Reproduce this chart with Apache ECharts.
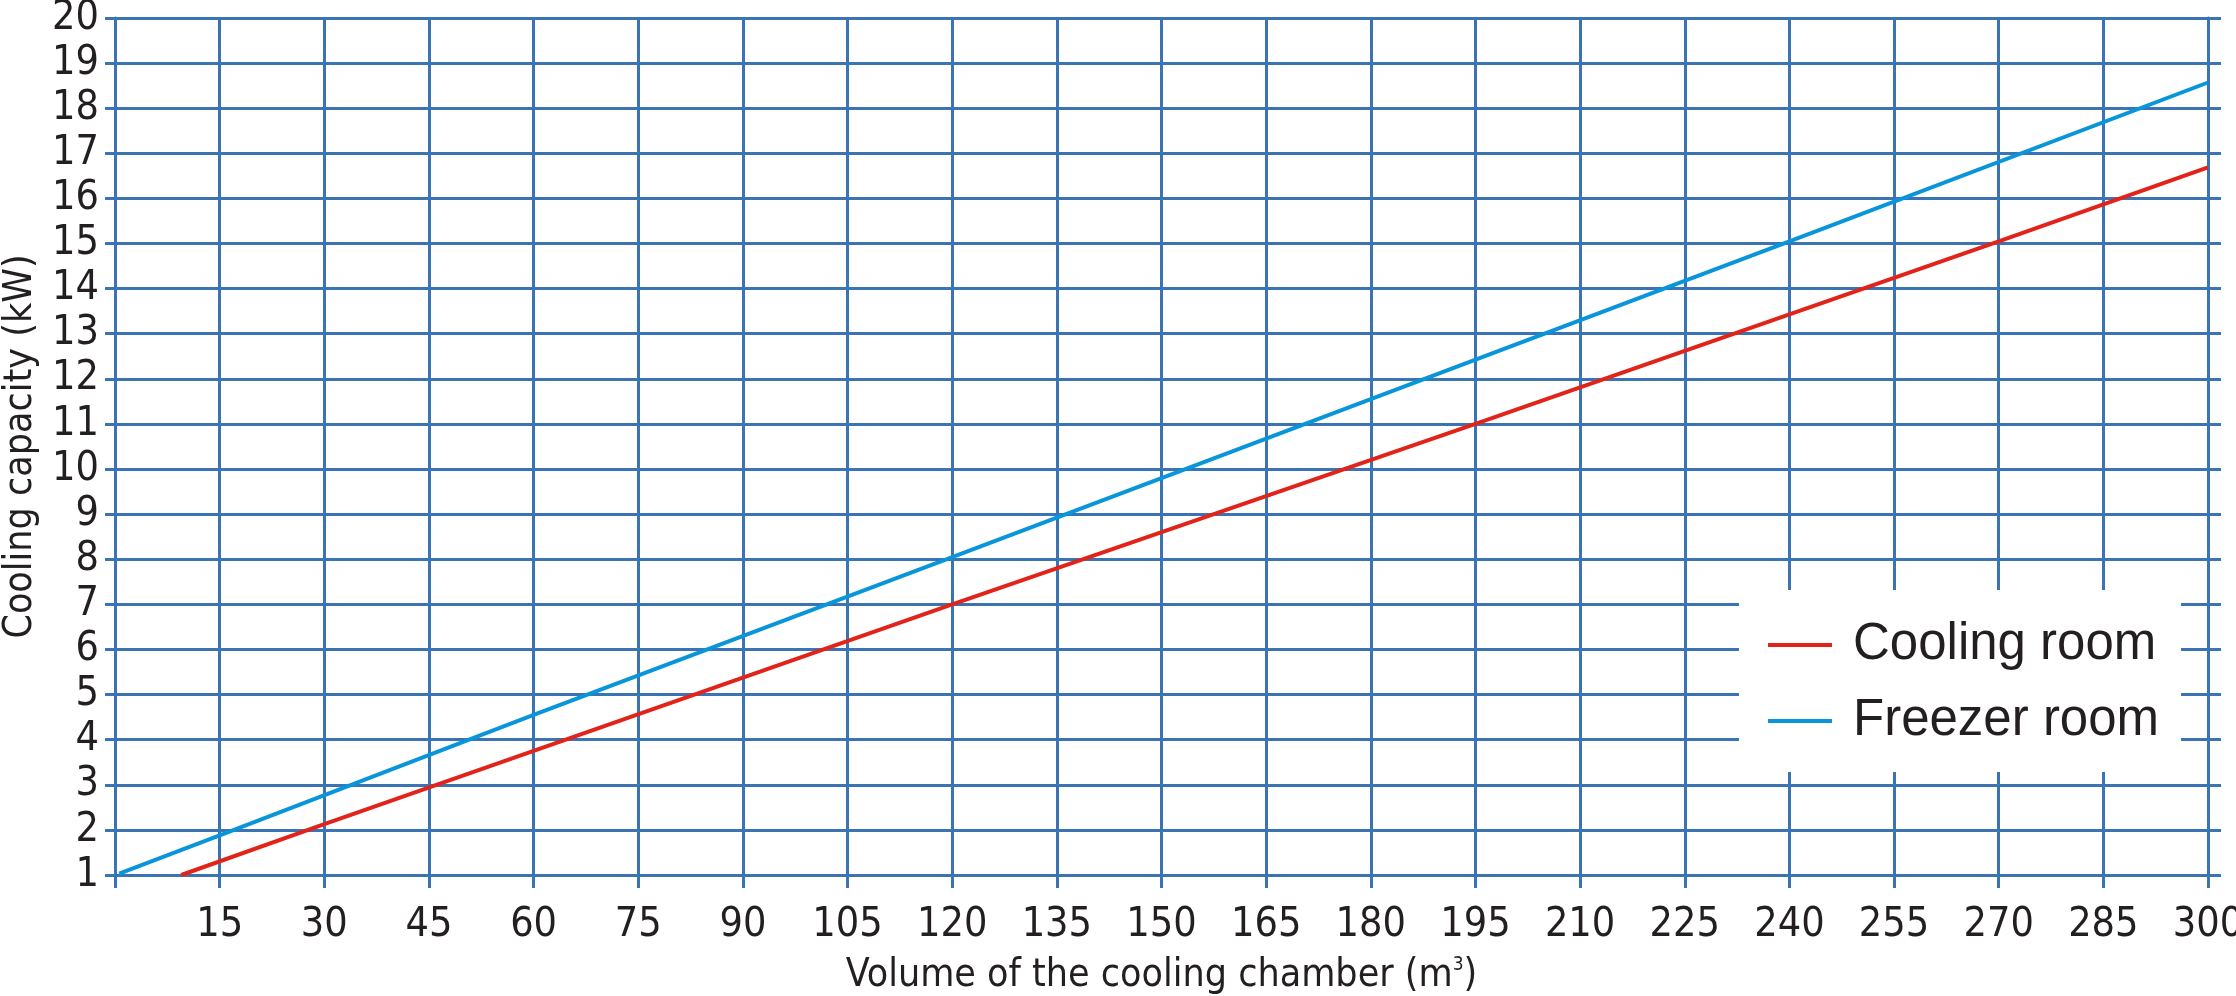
<!DOCTYPE html>
<html>
<head>
<meta charset="utf-8">
<script src="https://cdn.jsdelivr.net/npm/echarts@6/dist/echarts.min.js"></script>
<style>
  html, body { margin: 0; padding: 0; background: #fff; }
  #chart { width: 2236px; height: 996px; }
</style>
</head>
<body>
<div id="chart"></div>
<script>
// values
var coolingVolume = [9.5, 30, 60, 120, 195, 270, 300];
var coolingCapacity = [1.0, 2.13, 3.75, 7.0, 11.0, 15.05, 16.69];
var freezerVolume = [0.6, 15, 60, 120, 180, 240, 300];
var freezerCapacity = [1.03, 1.88, 4.55, 8.05, 11.55, 15.05, 18.57];

var gridBlue = "#3b74b4";
var textColor = "#231f20";
var narrow = "'Liberation Sans Narrow', 'Arial Narrow', 'DejaVu Sans Condensed', sans-serif";

function pairs(xs, ys) {
  return xs.map(function (x, i) { return [x, ys[i]]; });
}

var chart = echarts.init(document.getElementById("chart"));
chart.setOption({
  animation: false,
  backgroundColor: "#fff",
  grid: { left: 115, right: 28, top: 18, bottom: 121, containLabel: false, outerBoundsMode: "none" },
  xAxis: {
    type: "value",
    min: 0,
    max: 300,
    interval: 15,
    name: "Volume of the cooling chamber (m{sup|3})",
    nameLocation: "middle",
    nameGap: 81,
    nameTextStyle: {
      fontFamily: narrow, fontSize: 39, color: textColor,
      rich: { sup: { fontFamily: narrow, fontSize: 19, color: textColor, verticalAlign: "top", padding: [0, 0, 20, 0] } }
    },
    axisLine: { show: true, lineStyle: { color: gridBlue, width: 3 } },
    axisTick: { show: true, inside: false, length: 13, lineStyle: { color: gridBlue, width: 3 } },
    axisLabel: {
      margin: 30,
      fontFamily: narrow, fontSize: 41, color: textColor,
      formatter: function (v) { return v === 0 ? "" : v; }
    },
    splitLine: { show: true, lineStyle: { color: gridBlue, width: 3 } }
  },
  yAxis: [
    {
      type: "value",
      min: 1,
      max: 20,
      interval: 1,
      name: "Cooling capacity (kW)",
      nameLocation: "middle",
      nameRotate: 90,
      nameGap: 75,
      nameTextStyle: { fontFamily: narrow, fontSize: 39, color: textColor },
      axisLine: { show: true, lineStyle: { color: gridBlue, width: 3 } },
      axisTick: { show: true, inside: false, length: 10, lineStyle: { color: gridBlue, width: 3 } },
      axisLabel: { margin: 16, fontFamily: narrow, fontSize: 41, color: textColor },
      splitLine: { show: true, lineStyle: { color: gridBlue, width: 3 } }
    },
    {
      type: "value",
      position: "right",
      min: 1,
      max: 20,
      interval: 1,
      axisLine: { show: true, lineStyle: { color: gridBlue, width: 3 } },
      axisTick: { show: true, inside: false, length: 13, lineStyle: { color: gridBlue, width: 3 } },
      axisLabel: { show: false },
      splitLine: { show: false }
    }
  ],
  graphic: [
    {
      type: "rect",
      z: 3,
      shape: { x: 1739, y: 590, width: 442, height: 182 },
      style: { fill: "#fff" }
    }
  ],
  legend: {
    orient: "vertical",
    left: 1768,
    top: 617,
    padding: 0,
    itemGap: 20,
    itemWidth: 64,
    itemHeight: 4,
    icon: "rect",
    textStyle: { fontFamily: "'Liberation Sans', Arial, sans-serif", fontSize: 51, lineHeight: 56, color: textColor, padding: [0, 0, 0, 16] },
    data: ["Cooling room", "Freezer room"]
  },
  series: [
    {
      name: "Cooling room",
      type: "line",
      symbol: "none",
      lineStyle: { color: "#e2231a", width: 4 },
      itemStyle: { color: "#e2231a" },
      data: pairs(coolingVolume, coolingCapacity)
    },
    {
      name: "Freezer room",
      type: "line",
      symbol: "none",
      lineStyle: { color: "#0995da", width: 4 },
      itemStyle: { color: "#0995da" },
      data: pairs(freezerVolume, freezerCapacity)
    }
  ]
});
</script>
</body>
</html>
